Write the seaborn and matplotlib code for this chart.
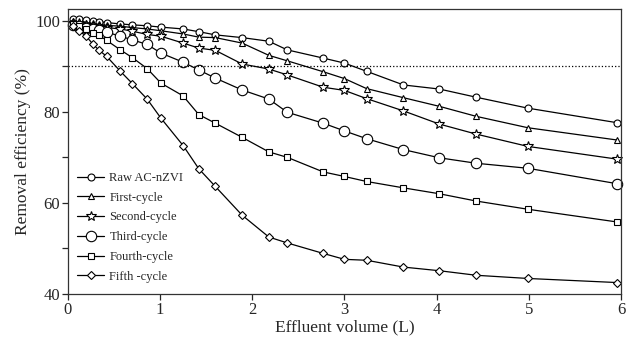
import pandas as pd
import numpy as np
import matplotlib
matplotlib.use("Agg")
import matplotlib.pyplot as plt
from matplotlib.ticker import MultipleLocator
import seaborn as sns

# effluent volume (L) where samples were taken
volume = [0.06, 0.12, 0.20, 0.27, 0.34, 0.42, 0.57, 0.70, 0.86, 1.01, 1.25, 1.42,
          1.60, 1.89, 2.18, 2.38, 2.77, 3.00, 3.24, 3.64, 4.03, 4.43, 4.99, 5.96]

raw = [100.3, 100.3, 100.1, 100.0, 99.8, 99.6, 99.3, 99.1, 98.9, 98.6, 98.2, 97.6,
       96.9, 96.3, 95.5, 93.6, 91.8, 90.7, 88.9, 85.9, 85.0, 83.2, 80.8, 77.6]
first = [99.9, 99.8, 99.6, 99.4, 99.2, 99.0, 98.8, 98.5, 98.2, 97.8, 97.1, 96.4,
         96.3, 95.1, 92.4, 91.2, 88.8, 87.3, 85.1, 83.1, 81.2, 79.0, 76.5, 73.8]
second = [99.6, 99.4, 99.1, 98.9, 98.7, 98.5, 98.2, 97.7, 97.0, 96.6, 95.1, 94.0,
          93.5, 90.5, 89.4, 88.1, 85.4, 84.7, 82.9, 80.2, 77.3, 75.1, 72.4, 69.6]
third = [99.1, 98.8, 98.5, 98.2, 97.9, 97.5, 96.6, 95.8, 94.8, 92.9, 90.9, 89.2,
         87.4, 84.8, 82.8, 79.9, 77.5, 75.8, 74.1, 71.7, 69.9, 68.7, 67.6, 64.2]
fourth = [99.3, 98.9, 98.2, 97.3, 96.8, 95.7, 93.6, 91.9, 89.5, 86.3, 83.5, 79.4,
          77.5, 74.4, 71.2, 70.0, 66.8, 65.8, 64.7, 63.3, 62.0, 60.4, 58.6, 55.8]
fifth = [98.8, 97.8, 96.6, 94.9, 93.5, 92.2, 88.9, 86.2, 82.8, 78.6, 72.6, 67.5,
         63.6, 57.3, 52.5, 51.2, 48.9, 47.6, 47.4, 45.9, 45.1, 44.1, 43.4, 42.5]

labels = ["Raw AC-nZVI", "First-cycle", "Second-cycle", "Third-cycle", "Fourth-cycle", "Fifth -cycle"]
series = [raw, first, second, third, fourth, fifth]
markers = ["o", "^", "*", "o", "s", "D"]
msizes = [5, 5, 7, 7.5, 5, 4.2]

sns.set_style("ticks")
plt.rcParams["font.family"] = ["Liberation Serif", "DejaVu Serif"]

fig = plt.figure(figsize=(6.28, 3.43), dpi=100)
ax = fig.add_axes([0.108, 0.143, 0.881, 0.831])

for lab, vals, m, ms in zip(labels, series, markers, msizes):
    df = pd.DataFrame({"volume": volume, "eff": vals})
    sns.lineplot(data=df, x="volume", y="eff", ax=ax, color="black", lw=0.9,
                 marker=m, markersize=ms, markerfacecolor="white",
                 markeredgecolor="black", markeredgewidth=0.8, label=lab,
                 clip_on=False)

ax.axhline(90, color="black", ls=":", lw=0.9)

ax.set_xlim(0, 6)
ax.set_ylim(40, 102.6)
ax.set_xticks([0, 1, 2, 3, 4, 5, 6])
ax.set_yticks([40, 60, 80, 100])
ax.yaxis.set_minor_locator(MultipleLocator(10))
ax.tick_params(axis="both", which="major", direction="out", length=4, width=0.9,
               labelsize=12, top=False, right=False, pad=1.5)
ax.tick_params(axis="y", which="minor", direction="out", length=4, width=0.9,
               left=True, right=False)
for s in ax.spines.values():
    s.set_linewidth(0.9)
    s.set_color("#333333")

ax.set_xlabel("Effluent volume (L)", fontsize=12.5, labelpad=1)
ax.set_ylabel("Removal efficiency (%)", fontsize=12.5, labelpad=3)

ax.legend(loc="lower left", bbox_to_anchor=(-0.004, 0.0), frameon=False,
          fontsize=9, handlelength=2.2, labelspacing=0.62, handletextpad=0.4)

fig.savefig("out.png", dpi=100)
